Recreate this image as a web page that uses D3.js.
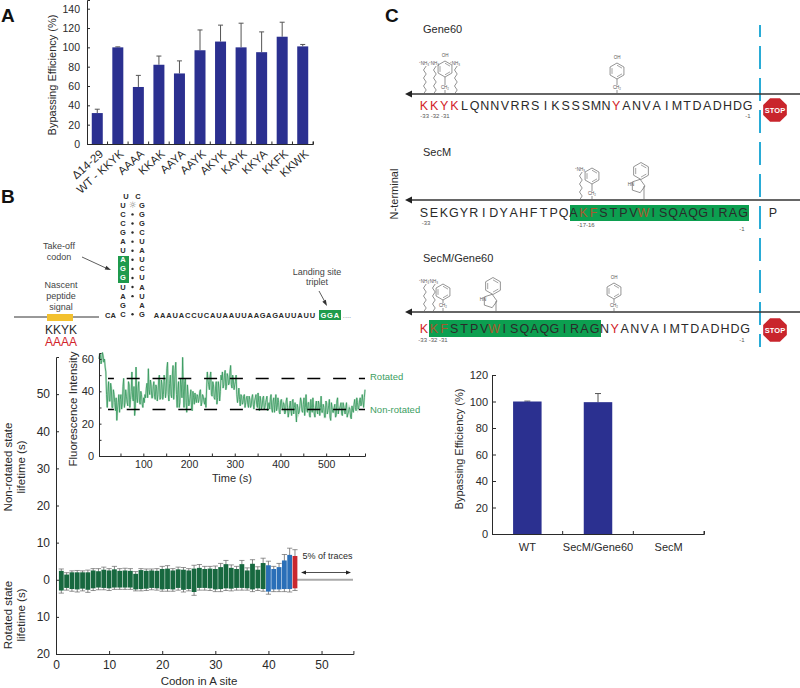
<!DOCTYPE html>
<html><head><meta charset="utf-8">
<script src="https://cdn.jsdelivr.net/npm/d3@7"></script>
<style>
html,body{margin:0;padding:0;background:#fff}
svg{display:block}
text{font-family:"Liberation Sans",Arial,sans-serif;fill:#2a2a2a}
</style></head><body>
<svg id="c" width="800" height="688"></svg>
<script>
// ---------- DATA ----------
const mutants=["Δ14-29","WT - KKYK","AAAA","KKAK","AAYA","AAYK","AKYK","KAYK","KKYA","KKFK","KKWK"];
const mutantValues=[32,100,59,82,73,97,106,100,95,111,101];
const mutantTops=[36,100.5,71,91,86,118,123,125,116,126,103];
const hybrids=["WT","SecM/Gene60","SecM"];
const hybridValues=[100,99.5,0];
const hybridTops=[100.3,106,0];
const codonUp=[2.4,1.4,2,2,2,2,2.5,2.3,2.7,2.5,2.8,2.4,2.5,2.4,1.6,2.6,2.4,2.5,2.4,2.9,3,2.5,2.8,2.7,2.5,3,3.2,2.9,3,2.9,3.4,4.2,3.2,2.9,4.2,2.5,4.3,2.7,4.5,3.9,2.9,3.4,5.2,6.7,6.4];
const codonUpErr=[2.9,1.9,2.4,2.5,2.4,2.6,3,3,3.4,3,3.6,3,3.1,3,2.2,3,2.9,2.9,3,3.6,3.8,3,3.4,3.3,3,3.9,4.1,3.6,3.6,3.7,4.4,5.2,4,3.6,5.2,3.2,5.4,3.5,5.8,5,3.6,4.4,6.8,8.5,8.1];
const codonDown=[2.9,2.2,2.5,2.6,2.4,2.7,2.3,2.1,2.2,2.3,2.1,2.1,2.1,2.1,2.6,2.5,2.4,2.2,2.3,2.6,2.5,2.6,2.2,2.7,2.5,3.3,2.2,2.2,2.3,2.6,2.5,2.3,2.4,2.2,2.2,2.3,2.6,2.3,2.5,3.2,2.6,2.6,2.5,2.5,2.3];
const codonDownErr=[3.6,2.8,3.1,3.3,3,3.4,2.9,2.7,2.7,2.9,2.6,2.6,2.6,2.6,3,3,2.9,2.7,2.8,3.1,3.1,3.1,2.8,3.3,3,4.2,2.8,2.8,2.9,3.2,3.2,2.9,3,2.8,2.8,2.8,3.2,2.9,3.1,3.9,3.2,3.2,3.2,3.3,2.9];
const traceStart=3, traceStep=3;
const trace=[60,63,59,62,60,52,30,46,34,42,30,38,28,22,33,27,38,32,48,33,37,31,44,35,52,34,25,55,33,46,32,38,30,
33,36,45,54,38,44,36,46,35,42,38,50,36,44,38,46,40,58,34,50,36,56,42,58,30,46,33,44,61,30,48,27,38,33,41,28,36,39,33,37,35,41,33,37,32,30,52,44,49,38,46,36,42,32,46,34,50,52,44,53,43,49,45,56,42,47,44,50,33,42,31,37,33,38,
33,37,30,35,31,38,29,36,32,39,28,34,31,37,30,35,28,33,36,29,34,27,38,30,33,26,35,29,32,27,36,24,31,28,34,26,33,21,30,27,36,28,32,25,38,27,33,24,30,36,26,31,28,34,25,37,27,30,24,33,28,35,22,30,27,32,25,36,29,31,26,33,28,30,24,27,29,23,28,32,30,36,29,34,31,38,30,41];
const traceBetween=[63,57,64,58,55,38,40,34,45,30,41,33,36,29,38,35,29,43,30,41,33,46,30,40,36,43,30,36,42,34,40,32,36,
38,42,36,41,47,36,43,37,44,34,47,35,47,35,50,36,54,38,45,38,50,35,53,38,41,30,48,36,42,46,33,44,31,37,29,40,32,35,38,33,40,31,38,34,36,42,47,41,52,37,44,35,46,36,42,40,47,42,50,41,51,44,52,44,50,41,46,38,37,35,38,32,37,30,
36,32,37,30,36,32,34,38,30,33,37,29,36,29,33,37,31,29,38,27,36,32,28,36,27,34,30,33,26,34,30,27,34,25,35,30,28,32,26,31,34,27,36,30,29,33,25,35,27,30,24,34,26,32,30,27,32,24,34,26,31,24,33,27,30,24,34,26,29,33,25,31,26,33,26,30,24,31,27,35,28,33,30,36,32,34,36,33];
const seqGene60="KKYKLQNNVRRSIKSSSMNYANVAIMTDADHDG";
const seqSecM="SEKGYRIDYAHFTPQAKFSTPVWISQAQGIRAG";
const seqHybrid="KKFSTPVWISQAQGIRAGNYANVAIMTDADHDG";
const rnaLeft=["U","C","C","G","A","U","A","G","G","U","A","G","C"];
const rnaRight=["G","G","G","C","U","A","U","C","U","A","U","A","G"];
const rnaPairs=["☼","•","•","•","•","•","•","•","•","•","•","","•"];
const rnaTail="AAAUACCUCAUAAUUAAGAGAUUAUU";

const INK="#2a2a2a",NAVY="#2b3090",GREEN="#0c9f50",RED="#d2232a",BROWN="#a8592e",BLUEDASH="#29abd6",TG="#3d9e5f";
const svg=d3.select("#c");
function T(x,y,s,o={}){const t=svg.append("text").attr("x",x).attr("y",y).text(s)
 .attr("font-size",o.size||11).attr("text-anchor",o.anchor||"middle").attr("dominant-baseline","central");
 if(o.fill)t.style("fill",o.fill); if(o.weight)t.attr("font-weight",o.weight);
 if(o.rot)t.attr("transform",`rotate(${o.rot},${x},${y})`); return t;}
function L(x1,y1,x2,y2,c,w){return svg.append("line").attr("x1",x1).attr("y1",y1).attr("x2",x2).attr("y2",y2).attr("stroke",c||INK).attr("stroke-width",w||1);}
function styleAxis(g,size){g.selectAll("path,line").attr("stroke",INK).attr("stroke-width",1);g.selectAll("text").attr("font-size",size).style("fill",INK);}
function arrowHead(x,y,ang,len,wid,c){svg.append("path").attr("d",`M0,0L${len},${-wid}L${len},${wid}Z`).attr("fill",c||INK)
 .attr("transform",`translate(${x},${y}) rotate(${ang})`);}

// panel letters
T(1,15,"A",{anchor:"start",size:19,weight:"bold"}).style("fill","#111");
T(1,196,"B",{anchor:"start",size:19,weight:"bold"}).style("fill","#111");
T(385,15,"C",{anchor:"start",size:19,weight:"bold"}).style("fill","#111");

// ---------- PANEL A ----------
{
 const x=d3.scaleBand().domain(mutants).range([87,313]);
 const y=d3.scaleLinear().domain([0,149]).range([144,0]);
 const bw=11;
 mutants.forEach((m,i)=>{const cx=x(m)+x.bandwidth()/2;
  L(cx,y(mutantValues[i]),cx,y(mutantTops[i]),"#555");
  L(cx-2.5,y(mutantTops[i]),cx+2.5,y(mutantTops[i]),"#555");
  svg.append("rect").attr("x",cx-bw/2).attr("width",bw).attr("y",y(mutantValues[i])).attr("height",y(0)-y(mutantValues[i])).attr("fill",NAVY);
 });
 const gy=svg.append("g").attr("transform","translate(87,0)").call(d3.axisLeft(y).tickValues(d3.range(0,141,20)).tickSize(-3).tickPadding(7));
 styleAxis(gy,10.5);
 const gx=svg.append("g").attr("transform","translate(0,144)").call(d3.axisBottom(x).tickSize(-2.5).tickFormat(""));
 styleAxis(gx,10);
 gx.selectAll(".tick line").attr("transform",`translate(${x.bandwidth()/2},0)`);
 mutants.forEach(m=>{const cx=x(m)+x.bandwidth()/2+4;
  T(cx,152,m,{anchor:"end",size:11.5,rot:-42});});
 T(52,75,"Bypassing Efficiency (%)",{size:11,rot:-90});
}

// ---------- PANEL B : RNA ----------
{
 const rows=d3.scaleLinear().domain([0,12]).range([205.3,314.3]);
 svg.append("rect").attr("x",118).attr("y",256).attr("width",11).attr("height",27).attr("fill","#1f9a4c");
 T(126,196,"U",{size:7.5,weight:"bold"});T(138,196,"C",{size:7.5,weight:"bold"});
 rnaLeft.forEach((s,i)=>{const g=i>=6&&i<=8;
  T(123,rows(i),s,{size:7.5,weight:"bold",fill:g?"#fff":INK});
  T(142,rows(i),rnaRight[i],{size:7.5,weight:"bold"});
  if(rnaPairs[i]==="☼")T(132.5,rows(i),"☼",{size:9,fill:"#777"}).style("font-family","DejaVu Sans");
  else if(rnaPairs[i])svg.append("circle").attr("cx",132.5).attr("cy",rows(i)).attr("r",1.2).attr("fill",INK);
 });
 T(110.5,315,"CA",{size:7.5,weight:"bold"});
 const tail=d3.scalePoint().domain(d3.range(rnaTail.length)).range([156.5,312.5]);
 rnaTail.split("").forEach((s,i)=>T(tail(i),315,s,{size:7.5,weight:"bold"}));
 svg.append("rect").attr("x",319).attr("y",310).attr("width",22).attr("height",10).attr("fill","#1f9a4c");
 ["G","G","A"].forEach((s,i)=>T(323.5+i*6.5,315,s,{size:7.5,weight:"bold",fill:"#fff"}));
 T(347,315,"....",{size:7.5,fill:"#888"});
 L(14,317,99,317,"#333",1);
 svg.append("rect").attr("x",47).attr("y",314).attr("width",26).attr("height",7).attr("fill","#f3c12f");
 T(61,329.5,"KKYK",{size:12});
 T(61,342,"AAAA",{size:12,fill:RED});
 ["Nascent","peptide","signal"].forEach((s,i)=>T(61,285+i*11,s,{size:9,fill:"#444"}));
 T(59,246,"Take-off",{size:9,fill:"#444"});T(59,257,"codon",{size:9,fill:"#444"});
 L(82,257,108,269,"#333",.8);arrowHead(111,270,204,6,2,"#333");
 T(317,272,"Landing site",{size:9,fill:"#444"});T(317,282,"triplet",{size:9,fill:"#444"});
 L(319,291,325,302,"#333",.8);arrowHead(327,306,241,6,2,"#333");
}

// ---------- PANEL B : lifetime chart ----------
{
 const x=d3.scaleLinear().domain([0,56]).range([56,353.4]);
 const y=d3.scaleLinear().domain([-20,60]).range([654,357]);
 const color=i=>i<39?"#17683f":i<44?"#2a6fb8":"#c9282f";
 L(x(45),y(0),353,y(0),"#aaa",2);
 codonUp.forEach((v,i)=>{const c=x(i+1);
  [[codonUpErr[i]],[-codonDownErr[i]]].forEach(e=>{L(c,y(0),c,y(e[0]),"#555",.7);L(c-2.6,y(e[0]),c+2.6,y(e[0]),"#666",.7);});
 });
 codonUp.forEach((v,i)=>{const c=x(i+1);
  svg.append("rect").attr("x",c-2.4).attr("width",4.8).attr("y",y(v)).attr("height",y(-codonDown[i])-y(v)).attr("fill",color(i));
 });
 const gy=svg.append("g").attr("transform","translate(56,0)").call(d3.axisLeft(y).tickValues([-20,-10,0,10,20,30,40,50]).tickFormat(d=>Math.abs(d)).tickSize(-3).tickPadding(6));
 styleAxis(gy,12);
 const gx=svg.append("g").attr("transform","translate(0,654)").call(d3.axisBottom(x).tickValues([0,10,20,30,40,50]).tickSize(-3).tickPadding(6));
 styleAxis(gx,12);
 T(199,681,"Codon in A site",{size:11.5});
 T(8,467,"Non-rotated state",{size:11.5,rot:-90});T(21,467,"lifetime (s)",{size:11.5,rot:-90});
 T(8,615,"Rotated state",{size:11.5,rot:-90});T(21,615,"lifetime (s)",{size:11.5,rot:-90});
 T(302.5,556,"5% of traces",{anchor:"start",size:9});
 L(303,572.5,349,572.5,"#222",.8);arrowHead(301,572.5,0,5,2,"#222");arrowHead(351,572.5,180,5,2,"#222");
}

// ---------- PANEL B : trace inset ----------
{
 const x=d3.scaleLinear().domain([3,585]).range([99,365]);
 const y=d3.scaleLinear().domain([0,63.7]).range([456,353]);
 const pts=trace.flatMap((v,i)=>{const t=traceStart+i*traceStep;const out=[[t,v]];
   if(traceBetween[i]!==undefined)out.push([t+traceStep/2,traceBetween[i]]);return out;}).filter(d=>d[0]<=585);
 const line=d3.line().x(d=>x(d[0])).y(d=>y(d[1]));
 svg.append("path").attr("d",line(pts)).attr("fill","none").attr("stroke",TG).attr("stroke-width",2).attr("opacity",.3);
 svg.append("path").attr("d",line(pts)).attr("fill","none").attr("stroke","#32975a").attr("stroke-width",.8);
 [378.5,409.5].forEach(v=>L(108,v,365,v,"#000",1.4).attr("stroke-dasharray","13 12.8").attr("stroke-dashoffset",7.1));
 const gy=svg.append("g").attr("transform","translate(99,0)").call(d3.axisLeft(y).tickValues([0,10,20,30,40,50,60]).tickFormat(d=>d%20==0?d:"").tickSize(-2.5).tickPadding(5));
 styleAxis(gy,11);
 const gx=svg.append("g").attr("transform","translate(0,456)").call(d3.axisBottom(x).tickValues(d3.range(50,551,50)).tickFormat(d=>d%100==0?d:"").tickSize(-2.5).tickPadding(5));
 styleAxis(gx,10.5);
 T(73,409,"Fluorescence Intensity",{size:11.5,rot:-90});
 T(232,478,"Time (s)",{size:11});
 T(370,376.5,"Rotated",{anchor:"start",size:9.5,fill:TG});
 T(370,409,"Non-rotated",{anchor:"start",size:9.5,fill:TG});
}

// ---------- PANEL C : sequences ----------
function ring(cx,cy,r,flat){const a=d3.range(6).map(i=>{const t=(i*60+(flat?0:30))*Math.PI/180;return [cx+r*Math.cos(t),cy+r*Math.sin(t)];});
 svg.append("path").attr("d","M"+a.join("L")+"Z").attr("fill","none").attr("stroke","#666").attr("stroke-width",.7);
 [0,2,4].forEach(i=>{const p=a[i],q=a[(i+1)%6],k=.72;
  L(cx+(p[0]-cx)*k,cy+(p[1]-cy)*k,cx+(q[0]-cx)*k,cy+(q[1]-cy)*k,"#666",.6);});}
function small(x,y,s,size){T(x,y,s,{size:size||4.5,fill:"#555"});}
function lys(x,top,base){const n=Math.round((base-top)/4);const d=d3.range(n+1).map(i=>[x+(i%2?2.2:-0.5),base-i*(base-top)/n]);
 svg.append("path").attr("d","M"+d.join("L")).attr("fill","none").attr("stroke","#666").attr("stroke-width",.7);
 small(x,top-3,"⁺NH₃");}
function tyr(x,cy,base,oh){ring(x,cy,8);L(x,cy+8,x,base-9,"#666",.7);L(x,base-4,x,base,"#666",.7);small(x,base-7,"CH₂");if(oh)small(x,cy-14,"OH");}
function trp(cx,cy,scx,base){ring(cx,cy,8.5,false);
 const p=d3.range(5).map(i=>{const t=(i*72-90+18)*Math.PI/180;return [cx-3+7*Math.cos(t),cy+15+7*Math.sin(t)];});
 svg.append("path").attr("d","M"+p.join("L")+"Z").attr("fill","none").attr("stroke","#666").attr("stroke-width",.7);
 L(scx,cy+15,scx,base,"#666",.7);small(cx-10,cy+13.5,"HN");}
function seq(str,x0,x1,y,red,brown){const s=d3.scalePoint().domain(d3.range(str.length)).range([x0,x1]);
 str.split("").forEach((c,i)=>T(s(i),y,c,{size:12.5,fill:red.includes(i)?RED:brown.includes(i)?BROWN:"#2a2a2a"}));}
function backbone(y){L(410,y,800,y,"#333",1.6);arrowHead(405,y,0,7,3.5,"#222");}
function stop(cx,cy){const r=12.8;const a=d3.range(8).map(i=>{const t=(i*45+22.5)*Math.PI/180;return [cx+r*Math.cos(t),cy+r*Math.sin(t)];});
 svg.append("path").attr("d","M"+a.join("L")+"Z").attr("fill","#c9252c");T(cx,cy,"STOP",{size:7.5,weight:"bold",fill:"#fff"});}

// dashed marker
L(760,25,760,347,BLUEDASH,2).attr("stroke-dasharray","23 9").attr("stroke-dashoffset",11);

// Gene60
T(423,29,"Gene60",{anchor:"start",size:11});
backbone(94);
lys(424,66,94);lys(434,66,94);lys(455,66,94);tyr(445,69,94,true);tyr(617,71,94,true);
seq(seqGene60,424,747.7,106,[0,1,2,3,19],[]);
small(435,116,"-33 -32 -31",6);small(748,116,"-1",6);
stop(775,110);

// SecM
T(423,152,"SecM",{anchor:"start",size:11});
backbone(200);
lys(580,172,200);tyr(592,176,200,false);trp(641,171,644,200);
svg.append("rect").attr("x",570).attr("y",205).attr("width",179).attr("height",16).attr("fill",GREEN);
seq(seqSecM,424,743,213,[],[16,17,22]);
T(773,213,"P",{size:12.5});
small(426,223,"-33",6);small(586,225,"-17-16",6);small(742,229,"-1",6);
T(394,194,"N-terminal",{size:11,rot:-90});

// SecM/Gene60
T(423,258,"SecM/Gene60",{anchor:"start",size:11});
backbone(312);
lys(424,284,312);lys(433,284,312);tyr(443,292,312,false);trp(493,286,496,312);tyr(614,291,312,true);
svg.append("rect").attr("x",429).attr("y",320).attr("width",172).attr("height",17).attr("fill",GREEN);
seq(seqHybrid,424,745,329,[0,19],[1,2,7]);
small(433,340,"-33 -32 -31",6);small(742,340,"-1",6);
stop(775,330);

// ---------- PANEL C : bar chart ----------
{
 const x=d3.scaleBand().domain(hybrids).range([492,704]);
 const y=d3.scaleLinear().domain([0,120]).range([534,375]);
 const bw=28.5;
 hybrids.forEach((h,i)=>{const cx=x(h)+x.bandwidth()/2;
  if(hybridValues[i]<=0)return;
  L(cx,y(hybridValues[i]),cx,y(hybridTops[i]),"#555");
  L(cx-3,y(hybridTops[i]),cx+3,y(hybridTops[i]),"#555");
  svg.append("rect").attr("x",cx-bw/2).attr("width",bw).attr("y",y(hybridValues[i])).attr("height",y(0)-y(hybridValues[i])).attr("fill",NAVY);
 });
 const gy=svg.append("g").attr("transform","translate(492,0)").call(d3.axisLeft(y).tickValues(d3.range(0,121,20)).tickSize(-4).tickPadding(4));
 styleAxis(gy,11);
 const gx=svg.append("g").attr("transform","translate(0,534)").call(d3.axisBottom(x).tickSize(-3).tickPadding(9));
 styleAxis(gx,11);
 gx.selectAll(".tick line").attr("transform",`translate(${x.bandwidth()/2},0)`);
 T(459,449,"Bypassing Efficiency (%)",{size:11,rot:-90});
}
</script></body></html>
